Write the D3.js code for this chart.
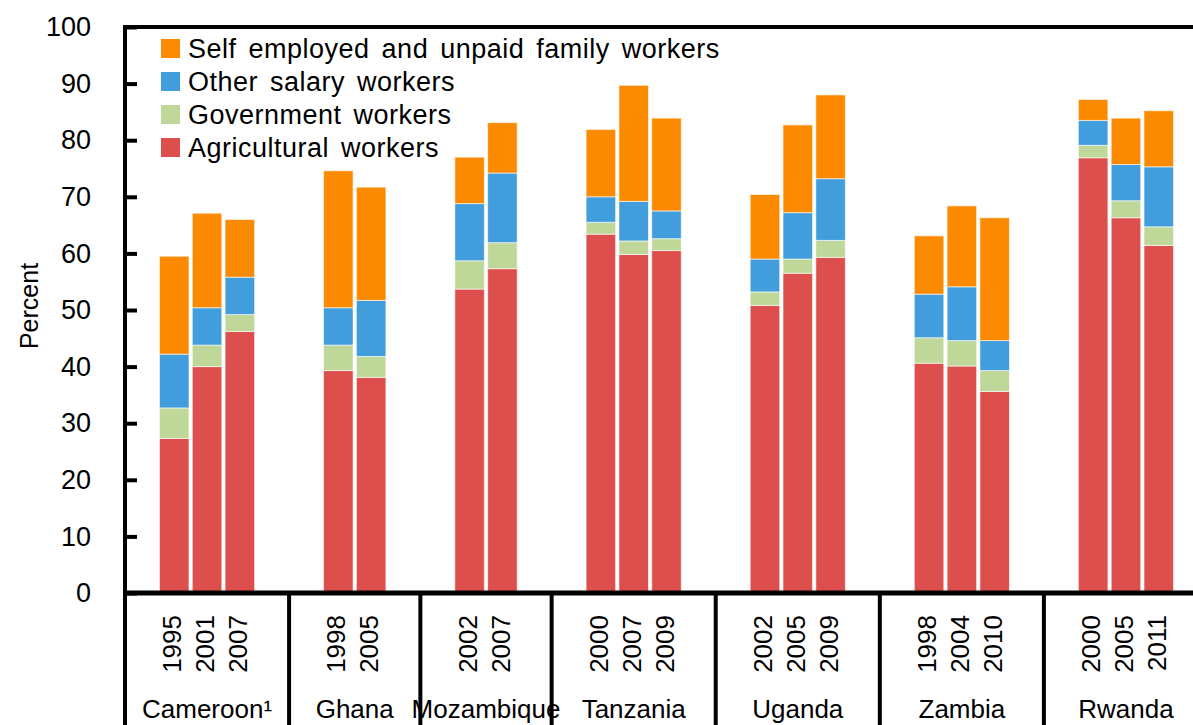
<!DOCTYPE html>
<html lang="en">

<head>
    <meta charset="UTF-8">
    <title>Employment shares by sector</title>
    <script src="https://d3js.org/d3.v7.min.js"></script>
    <style>
        body { margin: 0; background: #fff; }
        text { font-family: "Liberation Sans", Arial, sans-serif; fill: #000; }
    </style>
</head>

<body>
    <div id="chart"></div>
    <script>
        // countries and survey years
        const countries = ["Cameroon\u00b9", "Ghana", "Mozambique", "Tanzania", "Uganda", "Zambia", "Rwanda"];
        const years = [
            ["1995", "2001", "2007"],
            ["1998", "2005"],
            ["2002", "2007"],
            ["2000", "2007", "2009"],
            ["2002", "2005", "2009"],
            ["1998", "2004", "2010"],
            ["2000", "2005", "2011"]
        ];

        // shares (percent), one value per survey, in the order of the years above
        const agricultural = [27.3, 40.0, 46.2, 39.3, 38.1, 53.7, 57.3, 63.4, 59.8, 60.5, 50.8, 56.5, 59.3, 40.6, 40.1, 35.6, 76.9, 66.3, 61.4];
        const government   = [5.4, 3.8, 3.0, 4.5, 3.7, 5.0, 4.6, 2.1, 2.4, 2.1, 2.4, 2.5, 3.0, 4.5, 4.5, 3.7, 2.2, 3.0, 3.3];
        const otherSalary  = [9.5, 6.6, 6.6, 6.6, 9.9, 10.1, 12.3, 4.5, 7.0, 4.9, 5.8, 8.2, 10.9, 7.7, 9.5, 5.3, 4.4, 6.4, 10.6];
        const selfEmployed = [17.3, 16.7, 10.2, 24.2, 20.0, 8.2, 8.9, 11.9, 20.5, 16.4, 11.4, 15.5, 14.8, 10.3, 14.3, 21.7, 3.7, 8.2, 9.9];

        const seriesNames = ["Agricultural workers", "Government workers", "Other salary workers", "Self employed and unpaid family workers"];
        const seriesColors = ["#dd4f4d", "#bfd89a", "#419ddb", "#fb8a00"];
        const yTicks = [0, 10, 20, 30, 40, 50, 60, 70, 80, 90, 100];

        const width = 1193;
        const height = 725;
        const plotLeft = 125, plotRight = 1208, plotTop = 27, plotBottom = 593;

        // one slot per survey, plus an empty slot on each side of every country
        const slots = [];
        const groups = [];
        const rows = [];
        let k = 0;
        countries.forEach(function (c, i) {
            const first = slots.length;
            slots.push(c + "|a");
            years[i].forEach(function (yr) {
                const key = c + "|" + yr;
                slots.push(key);
                rows.push({
                    key: key, year: yr,
                    agri: agricultural[k], gov: government[k],
                    other: otherSalary[k], self: selfEmployed[k]
                });
                k++;
            });
            slots.push(c + "|b");
            groups.push({ name: c, first: slots[first], last: slots[slots.length - 1] });
        });

        const x = d3.scaleBand().domain(slots).range([plotLeft, plotRight]).paddingInner(0.1).paddingOuter(0.05);
        const step = x.step();
        const y = d3.scaleLinear().domain([0, 100]).range([plotBottom, plotTop]);

        const svg = d3.select("#chart")
            .append("svg")
            .attr("width", width)
            .attr("height", height);

        const stack = d3.stack().keys(["agri", "gov", "other", "self"]);
        const layers = stack(rows);

        svg.append("g")
            .selectAll("g")
            .data(layers)
            .join("g")
            .attr("fill", (d, i) => seriesColors[i])
            .selectAll("rect")
            .data(d => d)
            .join("rect")
            .attr("x", d => x(d.data.key))
            .attr("width", x.bandwidth())
            .attr("y", d => y(d[1]))
            .attr("height", d => y(d[0]) - y(d[1]))
            .attr("stroke", "#fff")
            .attr("stroke-opacity", 0.6)
            .attr("stroke-width", 1);

        // y axis with inward ticks
        const yAxis = d3.axisLeft(y).tickValues(yTicks).tickSize(-12).tickPadding(34);
        const gy = svg.append("g").attr("transform", "translate(" + plotLeft + ",0)").call(yAxis);
        gy.select(".domain").remove();
        gy.selectAll(".tick line").attr("stroke", "#000").attr("stroke-width", 4);
        gy.selectAll(".tick text").style("font-size", "27px").attr("fill", "#000");

        svg.append("text")
            .attr("transform", "translate(38,306) rotate(-90)")
            .attr("text-anchor", "middle")
            .style("font-size", "25px")
            .text("Percent");

        // frame
        svg.append("line").attr("x1", plotLeft).attr("x2", width).attr("y1", plotTop).attr("y2", plotTop)
            .attr("stroke", "#000").attr("stroke-width", 4);
        svg.append("line").attr("x1", plotLeft - 2).attr("x2", width).attr("y1", plotBottom).attr("y2", plotBottom)
            .attr("stroke", "#000").attr("stroke-width", 5);
        svg.append("line").attr("x1", plotLeft).attr("x2", plotLeft).attr("y1", plotTop - 2).attr("y2", height)
            .attr("stroke", "#000").attr("stroke-width", 4);

        // group separators below the axis
        svg.selectAll(".sep")
            .data(groups.slice(1))
            .join("line")
            .attr("class", "sep")
            .attr("x1", g => x(g.first) - step * 0.05)
            .attr("x2", g => x(g.first) - step * 0.05)
            .attr("y1", plotBottom)
            .attr("y2", height)
            .attr("stroke", "#000")
            .attr("stroke-width", 4);

        // year labels
        svg.selectAll(".year")
            .data(rows)
            .join("text")
            .attr("class", "year")
            .attr("transform", d => "translate(" + (x(d.key) + x.bandwidth() / 2 - 2) + "," + 615 + ") rotate(-90)")
            .attr("dy", "0.35em")
            .attr("text-anchor", "end")
            .style("font-size", "26px")
            .text(d => d.year);

        // country labels
        svg.selectAll(".country")
            .data(groups)
            .join("text")
            .attr("class", "country")
            .attr("x", g => (x(g.first) + x(g.last) + x.bandwidth()) / 2)
            .attr("y", 718)
            .attr("text-anchor", "middle")
            .style("font-size", "26px")
            .text(g => g.name);

        // legend, top series first
        const legend = svg.append("g").attr("transform", "translate(161,39)");
        const order = [3, 2, 1, 0];
        order.forEach(function (s, i) {
            const row = legend.append("g").attr("transform", "translate(0," + (i * 33) + ")");
            row.append("rect").attr("width", 19).attr("height", 19).attr("fill", seriesColors[s]);
            row.append("text").attr("x", 27).attr("y", 9.5).attr("dy", "0.35em")
                .style("font-size", "27px")
                .style("letter-spacing", "0.5px")
                .style("word-spacing", "4px")
                .text(seriesNames[s]);
        });
    </script>
</body>

</html>
